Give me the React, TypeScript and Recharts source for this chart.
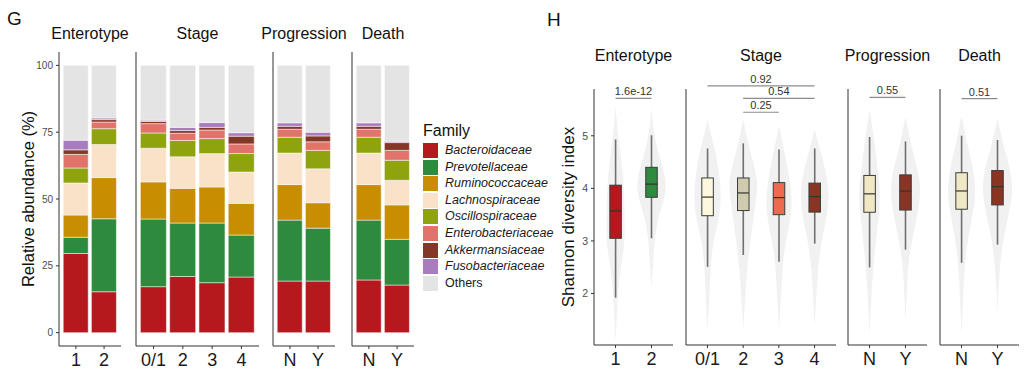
import React from 'react';
import { BarChart, Bar, XAxis, YAxis, ReferenceLine, Curve } from 'recharts';

const FONT = '"Liberation Sans", Arial, Helvetica, sans-serif';

// ---------------- Panel G: relative abundance ----------------
const facetNames = ['Enterotype', 'Stage', 'Progression', 'Death'];
const facetGroups = [['1', '2'], ['0/1', '2', '3', '4'], ['N', 'Y'], ['N', 'Y']];

const families = [
  'Bacteroidaceae', 'Prevotellaceae', 'Ruminococcaceae', 'Lachnospiraceae',
  'Oscillospiraceae', 'Enterobacteriaceae', 'Akkermansiaceae', 'Fusobacteriaceae', 'Others',
];
const familyColors = [
  '#B5181D', '#2E8A3C', '#C88E02', '#F9E2C7', '#8FA30F', '#E2736A', '#823827', '#A97BBF', '#E4E4E4',
];

// bar order: Ent1, Ent2, Stage0/1, Stage2, Stage3, Stage4, ProgN, ProgY, DeathN, DeathY
const bacteroidaceae = [29.6, 15.3, 17.2, 21.0, 18.7, 20.8, 19.3, 19.3, 19.7, 17.8];
const prevotellaceae = [6.1, 27.3, 25.3, 20.0, 22.3, 15.7, 22.8, 19.8, 22.4, 17.1];
const ruminococcaceae = [8.3, 15.4, 13.9, 13.0, 13.5, 11.9, 13.3, 9.5, 13.3, 12.9];
const lachnospiraceae = [12.0, 12.4, 12.6, 11.8, 12.5, 11.7, 11.8, 12.7, 11.8, 9.2];
const oscillospiraceae = [5.6, 5.9, 5.7, 6.1, 5.6, 6.9, 5.9, 6.9, 5.9, 7.5];
const enterobacteriaceae = [5.1, 2.5, 3.5, 2.7, 3.2, 3.6, 3.0, 3.2, 3.0, 3.7];
const akkermansiaceae = [1.7, 0.9, 0.8, 1.0, 1.0, 2.9, 1.1, 2.2, 1.1, 2.9];
const fusobacteriaceae = [3.6, 0.6, 0.5, 1.2, 1.8, 1.3, 1.3, 1.4, 1.3, 0.5];
const others = [28.0, 19.7, 20.5, 23.2, 21.4, 25.2, 21.5, 25.0, 21.5, 28.4];
const familyValues = [
  bacteroidaceae, prevotellaceae, ruminococcaceae, lachnospiraceae, oscillospiraceae,
  enterobacteriaceae, akkermansiaceae, fusobacteriaceae, others,
];
const abundanceTicks = [0, 25, 50, 75, 100];

// ---------------- Panel H: Shannon diversity ----------------
const shannonLow = [1.92, 3.05, 2.63, 2.86, 2.73, 3.08, 2.66, 2.98, 2.63, 2.97];
const shannonQ1 = [3.05, 3.83, 3.62, 3.72, 3.64, 3.69, 3.65, 3.69, 3.63, 3.71];
const shannonMedian = [3.57, 4.08, 3.98, 4.06, 3.97, 3.99, 3.98, 4.03, 3.97, 4.05];
const shannonQ3 = [4.06, 4.4, 4.35, 4.35, 4.26, 4.25, 4.31, 4.32, 4.31, 4.35];
const shannonHigh = [4.93, 5.01, 4.92, 5.02, 4.9, 4.92, 5.0, 4.92, 5.0, 4.92];
const boxFills = ['#B5181D', '#2E8A3C', '#FDF7DD', '#CFCBAE', '#EE6A4F', '#8A3424', '#F0E8C5', '#8A3424', '#F0E8C5', '#8A3424'];
const shannonTicks = [2, 3, 4, 5];
const shannonDomains = [[1.02, 5.89], [1.12, 6.07], [1.27, 5.86], [1.1, 5.87]];

// violin outlines: [value, half width as a fraction of the category step]
const violinE1 = [[1.08, 0], [1.5, 0.03], [2.0, 0.06], [2.5, 0.14], [2.8, 0.22], [3.1, 0.26], [3.5, 0.25], [4.0, 0.24], [4.5, 0.17], [5.0, 0.07], [5.3, 0.03], [5.58, 0]];
const violinE2 = [[2.1, 0], [2.5, 0.04], [3.0, 0.08], [3.4, 0.17], [3.7, 0.31], [4.0, 0.42], [4.3, 0.36], [4.6, 0.22], [5.0, 0.08], [5.3, 0.03], [5.52, 0]];
const violinS01 = [[1.4, 0], [1.9, 0.04], [2.55, 0.08], [3.1, 0.14], [3.5, 0.31], [4.0, 0.39], [4.5, 0.31], [4.9, 0.21], [5.2, 0.08], [5.49, 0]];
const violinS2 = [[1.4, 0], [1.9, 0.04], [2.55, 0.1], [3.0, 0.17], [3.55, 0.28], [4.1, 0.39], [4.35, 0.39], [4.85, 0.2], [5.2, 0.08], [5.49, 0]];
const violinS3 = [[1.4, 0], [1.9, 0.04], [2.45, 0.08], [2.95, 0.14], [3.4, 0.28], [3.9, 0.39], [4.5, 0.25], [4.9, 0.14], [5.36, 0]];
const violinS4 = [[1.5, 0], [2.0, 0.04], [2.55, 0.08], [3.1, 0.18], [3.5, 0.31], [4.0, 0.42], [4.5, 0.31], [4.9, 0.14], [5.3, 0]];
const violinPN = [[1.45, 0], [2.05, 0.04], [2.65, 0.1], [3.1, 0.17], [3.55, 0.25], [4.0, 0.31], [4.45, 0.22], [4.9, 0.14], [5.5, 0]];
const violinPY = [[1.7, 0], [2.3, 0.04], [2.75, 0.08], [3.1, 0.17], [3.6, 0.33], [4.05, 0.44], [4.45, 0.33], [4.8, 0.17], [5.37, 0]];
const violinDN = [[1.3, 0], [1.9, 0.04], [2.55, 0.08], [3.05, 0.17], [3.55, 0.31], [3.95, 0.41], [4.45, 0.31], [4.8, 0.17], [5.38, 0]];
const violinDY = [[1.7, 0], [2.3, 0.04], [2.8, 0.1], [3.15, 0.19], [3.6, 0.33], [4.0, 0.44], [4.45, 0.33], [4.75, 0.19], [5.32, 0]];
const violinProfiles = [violinE1, violinE2, violinS01, violinS2, violinS3, violinS4, violinPN, violinPY, violinDN, violinDY];

// significance brackets
const bracketFacet = [0, 1, 1, 1, 2, 3];
const bracketFrom = ['1', '0/1', '2', '2', 'N', 'N'];
const bracketTo = ['2', '4', '4', '3', 'Y', 'Y'];
const bracketY = [5.71, 6.13, 5.89, 5.62, 5.71, 5.69];
const bracketLabel = ['1.6e-12', '0.92', '0.54', '0.25', '0.55', '0.51'];

// ---------------- build tables ----------------
const facetStart: number[] = [];
{
  let s = 0;
  facetGroups.forEach((g) => { facetStart.push(s); s += g.length; });
}

const gRows = facetGroups.map((groups, f) =>
  groups.map((name, j) => {
    const row: any = { name };
    families.forEach((fam, k) => { row[fam] = familyValues[k][facetStart[f] + j]; });
    return row;
  })
);

const hRows = facetGroups.map((groups, f) =>
  groups.map((name, j) => {
    const i = facetStart[f] + j;
    const prof = violinProfiles[i];
    return {
      name,
      vmin: prof[0][0],
      vmax: prof[prof.length - 1][0],
      violin: prof,
      lo: shannonLow[i],
      q1: shannonQ1[i],
      med: shannonMedian[i],
      q3: shannonQ3[i],
      hi: shannonHigh[i],
      color: boxFills[i],
    };
  })
);

// ---------------- layout ----------------
const CHART_H = 371;
const G_TOP = 52;
const G_BOTTOM = 346;
const H_TOP = 89;
const H_BOTTOM = 345;
const gAxisX = [59, 136, 273, 352];
const gPlotW = [62, 123, 62, 62];
const hAxisX = [594, 686, 848, 940];
const hPlotW = [79, 150, 79, 79];

const axisColor = '#333333';

const ViolinBox = (props: any) => {
  const { x, y, width, height, payload } = props;
  const top = Math.min(y, y + height);
  const h = Math.abs(height);
  const span = payload.vmax - payload.vmin;
  const py = (v: number) => top + (h * (payload.vmax - v)) / span;
  const cx = x + width / 2;
  const right = payload.violin.map((p: number[]) => ({ x: cx + p[1] * width, y: py(p[0]) }));
  const left = [...payload.violin].reverse().map((p: number[]) => ({ x: cx - p[1] * width, y: py(p[0]) }));
  const bw = width * 0.32;
  return (
    <g>
      <Curve type="basisClosed" points={[...right, ...left]} fill="#F1F1F1" stroke="none" />
      <line x1={cx} x2={cx} y1={py(payload.hi)} y2={py(payload.lo)} stroke="#707070" strokeWidth={1.6} />
      <rect
        x={cx - bw / 2}
        y={py(payload.q3)}
        width={bw}
        height={py(payload.q1) - py(payload.q3)}
        fill={payload.color}
        stroke="#3C3C3C"
        strokeWidth={1}
      />
      <line x1={cx - bw / 2} x2={cx + bw / 2} y1={py(payload.med)} y2={py(payload.med)} stroke="#333" strokeWidth={1.2} />
    </g>
  );
};

function GPanel({ f }: { f: number }) {
  const first = f === 0;
  const yw = first ? 59 : 6;
  const left = gAxisX[f] - yw;
  const n = facetGroups[f].length;
  const step = gPlotW[f] / (n + 0.2);
  const pad = 0.1 * step;
  return (
    <div style={{ position: 'absolute', left, top: 0 }}>
      <BarChart
        width={yw + gPlotW[f]}
        height={CHART_H}
        data={gRows[f]}
        margin={{ top: G_TOP, right: 0, bottom: 0, left: 0 }}
        barCategoryGap="5%"
      >
        <XAxis
          dataKey="name"
          interval={0}
          padding={{ left: pad, right: pad }}
          height={CHART_H - G_BOTTOM}
          tickSize={3}
          tickMargin={4}
          axisLine={{ stroke: axisColor, strokeWidth: 1 }}
          tickLine={{ stroke: axisColor }}
          tick={{ fontSize: 18, fill: '#1a1a1a', fontFamily: FONT }}
        />
        <YAxis
          width={yw}
          domain={[-5, 105]}
          ticks={abundanceTicks}
          allowDataOverflow
          interval={0}
          tickSize={3}
          tickMargin={3}
          axisLine={{ stroke: axisColor, strokeWidth: 1 }}
          tickLine={{ stroke: axisColor }}
          tick={first ? { fontSize: 10, fill: '#4D4D4D', fontFamily: FONT } : false}
          label={
            first
              ? {
                  value: 'Relative abundance (%)',
                  angle: -90,
                  position: 'insideLeft',
                  offset: 28,
                  style: { textAnchor: 'middle', fontSize: 16.5, fill: '#111', fontFamily: FONT },
                }
              : undefined
          }
        />
        {families.map((fam, k) => (
          <Bar
            key={fam}
            dataKey={fam}
            stackId="a"
            fill={familyColors[k]}
            stroke="#ffffff"
            strokeWidth={0.5}
            isAnimationActive={false}
          />
        ))}
      </BarChart>
    </div>
  );
}

function HPanel({ f }: { f: number }) {
  const first = f === 0;
  const yw = first ? 44 : 6;
  const left = hAxisX[f] - yw;
  const n = facetGroups[f].length;
  const step = hPlotW[f] / (n + 0.2);
  const pad = 0.1 * step;
  const brackets = bracketFacet.map((bf, b) => ({ bf, b })).filter((o) => o.bf === f);
  return (
    <div style={{ position: 'absolute', left, top: 0 }}>
      <BarChart
        width={yw + hPlotW[f]}
        height={CHART_H}
        data={hRows[f]}
        margin={{ top: H_TOP, right: 0, bottom: 0, left: 0 }}
        barCategoryGap={0}
      >
        <XAxis
          dataKey="name"
          interval={0}
          padding={{ left: pad, right: pad }}
          height={CHART_H - H_BOTTOM}
          tickSize={3}
          tickMargin={4}
          axisLine={{ stroke: axisColor, strokeWidth: 1 }}
          tickLine={{ stroke: axisColor }}
          tick={{ fontSize: 18, fill: '#1a1a1a', fontFamily: FONT }}
        />
        <YAxis
          width={yw}
          domain={shannonDomains[f]}
          ticks={shannonTicks}
          allowDataOverflow
          interval={0}
          tickSize={3}
          tickMargin={3}
          axisLine={{ stroke: axisColor, strokeWidth: 1 }}
          tickLine={{ stroke: axisColor }}
          tick={first ? { fontSize: 10.5, fill: '#4D4D4D', fontFamily: FONT } : false}
          label={
            first
              ? {
                  value: 'Shannon diversity index',
                  angle: -90,
                  position: 'insideLeft',
                  offset: 17.5,
                  style: { textAnchor: 'middle', fontSize: 17, fill: '#111', fontFamily: FONT },
                }
              : undefined
          }
        />
        <Bar dataKey={(d: any) => [d.vmin, d.vmax]} shape={ViolinBox} isAnimationActive={false} />
        {brackets.map(({ b }) => (
          <ReferenceLine
            key={b}
            segment={[
              { x: bracketFrom[b], y: bracketY[b] },
              { x: bracketTo[b], y: bracketY[b] },
            ]}
            stroke="#8C8C8C"
            strokeWidth={1.2}
            ifOverflow="visible"
            label={{ value: bracketLabel[b], position: 'top', offset: 3, fontSize: 11, fill: '#333', fontFamily: FONT }}
          />
        ))}
      </BarChart>
    </div>
  );
}

function Title({ text, cx, top }: { text: string; cx: number; top: number }) {
  return (
    <div
      style={{
        position: 'absolute',
        left: cx - 70,
        top,
        width: 140,
        textAlign: 'center',
        fontSize: 16,
        lineHeight: '18px',
        color: '#111',
        whiteSpace: 'nowrap',
      }}
    >
      {text}
    </div>
  );
}

export default function App() {
  return (
    <div
      style={{
        position: 'absolute',
        left: 0,
        top: 0,
        width: 1024,
        height: 371,
        background: '#fff',
        fontFamily: FONT,
        overflow: 'hidden',
      }}
    >
      <div style={{ position: 'absolute', left: 7, top: 8, fontSize: 19, lineHeight: '22px', color: '#111' }}>G</div>
      <div style={{ position: 'absolute', left: 547, top: 9, fontSize: 19, lineHeight: '22px', color: '#111' }}>H</div>

      {facetNames.map((name, f) => (
        <GPanel key={'g' + f} f={f} />
      ))}
      {facetNames.map((name, f) => (
        <Title key={'gt' + f} text={name} cx={gAxisX[f] + gPlotW[f] / 2} top={25} />
      ))}

      {facetNames.map((name, f) => (
        <HPanel key={'h' + f} f={f} />
      ))}
      {facetNames.map((name, f) => (
        <Title key={'ht' + f} text={name} cx={hAxisX[f] + hPlotW[f] / 2} top={46.5} />
      ))}

      <div style={{ position: 'absolute', left: 423, top: 122, color: '#111' }}>
        <div style={{ fontSize: 16, lineHeight: '18px' }}>Family</div>
        {families.map((fam, k) => (
          <div key={fam} style={{ position: 'absolute', left: 0, top: 21 + k * 16.6, display: 'flex', alignItems: 'center', height: 15 }}>
            <div style={{ width: 15, height: 15, background: familyColors[k] }} />
            <div
              style={{
                marginLeft: 7,
                fontSize: 12.5,
                lineHeight: '15px',
                fontStyle: fam === 'Others' ? 'normal' : 'italic',
                color: '#1a1a1a',
                whiteSpace: 'nowrap',
              }}
            >
              {fam}
            </div>
          </div>
        ))}
      </div>
    </div>
  );
}
